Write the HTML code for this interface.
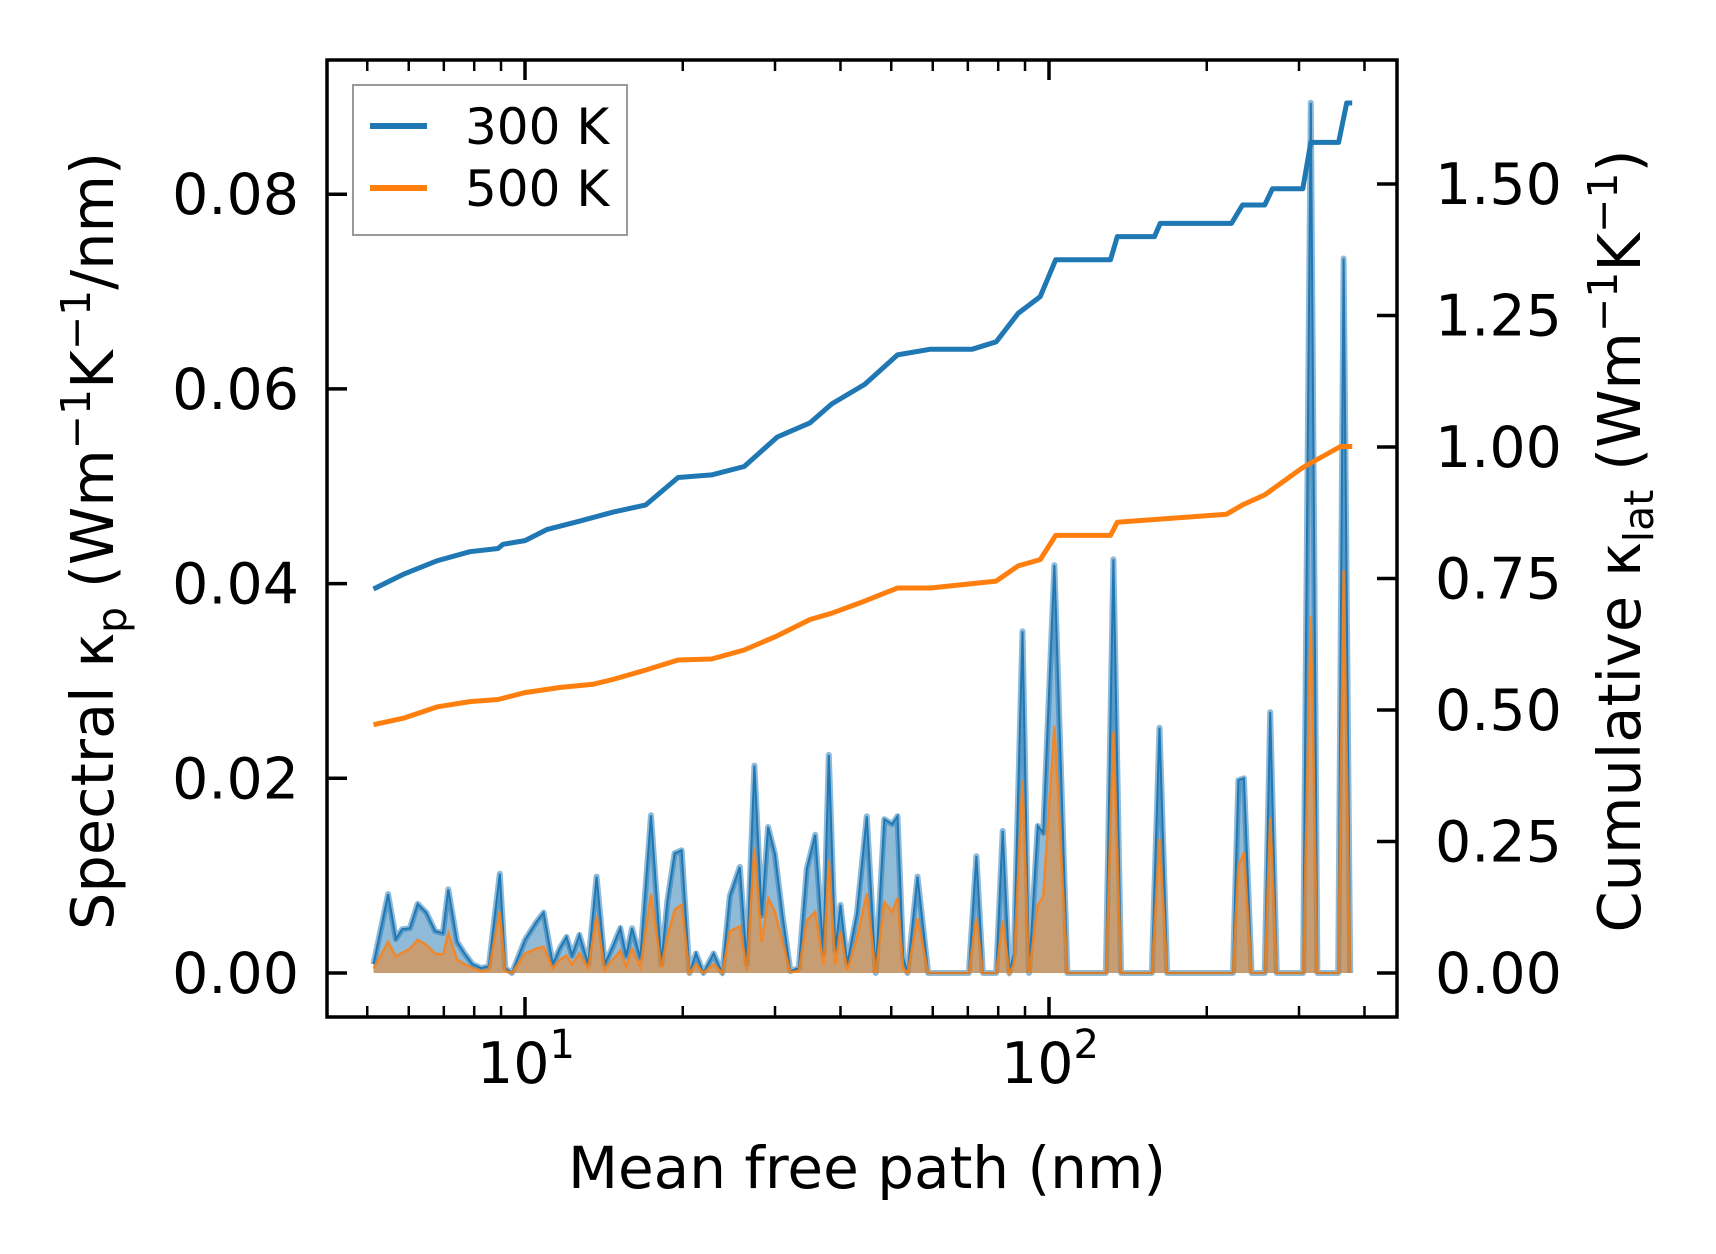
<!DOCTYPE html>
<html><head><meta charset="utf-8"><style>
html,body{margin:0;padding:0;background:#fff}
svg{display:block}
text{font-family:"DejaVu Sans","Liberation Sans",sans-serif;fill:#000}
</style></head><body>
<svg id="chart" width="1716" height="1254" viewBox="0 0 1716 1254" xmlns="http://www.w3.org/2000/svg">
<g id="plot"></g>
</svg>
<script>
// data
const mfp = [5.14,5.48,5.67,5.83,6.03,6.24,6.48,6.74,6.97,7.14,7.42,7.67,7.94,8.25,8.53,8.95,9.17,9.44,10.0,10.5,10.85,11.3,11.67,12.0,12.3,12.7,13.2,13.7,14.2,14.7,15.2,15.6,16.0,16.6,17.4,18.2,18.7,19.3,19.9,20.6,21.2,21.9,22.9,23.8,24.6,25.7,26.5,27.4,28.3,29.1,30.0,31.0,32.1,33.3,34.5,35.8,37.1,38.0,39.1,40.0,41.2,43.0,44.9,46.7,48.5,50.2,51.4,52.7,53.7,56.1,58.8,70.3,72.7,74.8,79.3,81.6,84.0,85.7,89.0,91.6,95.2,97.5,102.4,108.4,128.4,132.7,137.3,157.1,162.5,168.1,224.4,229.9,235.5,243.6,258.0,264.3,272.1,305.4,315.9,325.2,356.3,365.0,375.7];
const spec300 = [0.0009,0.0081,0.0035,0.0045,0.0046,0.0071,0.0062,0.0043,0.0041,0.0086,0.0032,0.0020,0.0009,0.0005,0.0007,0.0102,0.0005,0,0.0034,0.0052,0.0062,0.0009,0.0026,0.0037,0.0018,0.0039,0.0009,0.0099,0.0009,0.0027,0.0046,0.0017,0.0046,0.0015,0.0162,0.0009,0.0074,0.0123,0.0126,0,0.0020,0,0.0020,0,0.0079,0.0109,0.0009,0.0213,0.0059,0.0150,0.0122,0.0059,0.0002,0.0005,0.0107,0.0142,0.0020,0.0224,0.0023,0.0070,0.0009,0.0061,0.0161,0,0.0158,0.0153,0.0161,0.0016,0,0.0099,0,0,0.0120,0,0,0.0146,0,0.0020,0.0351,0,0.0151,0.0144,0.0419,0,0,0.0425,0,0,0.0252,0,0,0.0198,0.0200,0,0,0.0268,0,0,0.0894,0,0,0.0734,0];
const spec500 = [0.00045,0.0032,0.0017,0.0021,0.0025,0.0034,0.0029,0.0020,0.0019,0.0041,0.0014,0.0009,0.0005,0.0002,0.0003,0.0063,0.0002,0,0.0020,0.0025,0.0027,0.0005,0.0014,0.0018,0.0009,0.0020,0.0005,0.0059,0.0003,0.0014,0.0023,0.0007,0.0025,0.0006,0.0081,0.0006,0.0037,0.0065,0.0070,0,0.0009,0,0.0009,0,0.0043,0.0048,0.0003,0.0129,0.0032,0.0077,0.0063,0.0032,0.0001,0.0002,0.0054,0.0063,0.0009,0.0116,0.0009,0.0043,0.0003,0.0036,0.0082,0,0.0073,0.0063,0.0077,0.0005,0,0.0056,0,0,0.0057,0,0,0.0054,0,0.0009,0.0198,0,0.0070,0.0079,0.0254,0,0,0.0248,0,0,0.0138,0,0,0.0110,0.0124,0,0,0.0160,0,0,0.0367,0,0,0.0414,0];
const cumX300 = [5.14,5.89,6.81,7.85,8.88,9.08,10.0,11.0,12.7,14.7,17.0,19.6,22.7,26.2,30.3,35.0,38.5,44.5,51.4,59.4,71.4,79.3,87.3,96.2,103,131,135,159,163,223,234,258,267,305,316,357,370,379];
const cum300 = [0.730,0.759,0.784,0.801,0.807,0.815,0.822,0.843,0.859,0.876,0.890,0.942,0.947,0.963,1.019,1.046,1.082,1.119,1.175,1.186,1.186,1.200,1.254,1.286,1.356,1.356,1.400,1.400,1.425,1.425,1.460,1.460,1.491,1.491,1.579,1.579,1.654,1.654];
const cumX500 = [5.14,5.89,6.81,7.85,8.88,10.0,11.7,13.5,14.7,17.0,19.6,22.7,26.2,30.3,35.0,38.5,44.5,51.4,59.4,79.3,87.3,96.2,103,131,135,218,234,258,305,360,379];
const cum500 = [0.472,0.485,0.506,0.516,0.520,0.533,0.543,0.549,0.558,0.576,0.595,0.597,0.614,0.641,0.672,0.684,0.707,0.732,0.732,0.745,0.774,0.786,0.832,0.832,0.857,0.872,0.890,0.909,0.961,1.001,1.001];
const yTicksL = [0,0.02,0.04,0.06,0.08];
const yTicksLLabels = ["0.00","0.02","0.04","0.06","0.08"];
const yTicksR = [0,0.25,0.5,0.75,1.0,1.25,1.5];
const yTicksRLabels = ["0.00","0.25","0.50","0.75","1.00","1.25","1.50"];
const xMajor = [10,100];
const xMinor = [5,6,7,8,9,20,30,40,50,60,70,80,90,200,300,400];

const NS="http://www.w3.org/2000/svg";
const L=327,R=1397,T=60,B=1017;
const X0=525, DEC=524;
const xs=v=>X0+(Math.log10(v)-1)*DEC;
const yL=v=>973-v/0.02*194.7;
const yR=v=>973-v/0.25*131.5;
const g=document.getElementById('plot');
function mk(tag,attrs,parent){const e=document.createElementNS(NS,tag);for(const k in attrs)e.setAttribute(k,attrs[k]);(parent||g).appendChild(e);return e;}
const clip=mk('clipPath',{id:'cp'});mk('rect',{x:L,y:T,width:R-L,height:B-T},clip);

function areaPath(xsArr,ys,yf){let d='M'+xs(xsArr[0])+','+yf(0);xsArr.forEach((x,i)=>{d+=' L'+xs(x).toFixed(1)+','+yf(ys[i]).toFixed(1);});d+=' L'+xs(xsArr[xsArr.length-1])+','+yf(0)+'Z';return d;}
function linePath(xsArr,ys,yf){return xsArr.map((x,i)=>(i?'L':'M')+xs(x).toFixed(1)+','+yf(ys[i]).toFixed(1)).join(' ');}

const a1=mk('path',{d:areaPath(mfp,spec300,yL),fill:'rgba(31,119,180,0.5)','clip-path':'url(#cp)'});


const l1b=mk('path',{d:linePath(mfp,spec300,yL),fill:'none',stroke:'rgba(31,119,180,0.5)','stroke-width':6,'stroke-linejoin':'round'});


const l1=mk('path',{d:linePath(mfp,spec300,yL),fill:'none',stroke:'#1f77b4','stroke-width':2});


const a2=mk('path',{d:areaPath(mfp,spec500,yL),fill:'rgba(255,127,14,0.5)'});


const l2=mk('path',{d:linePath(mfp,spec500,yL),fill:'none',stroke:'rgba(255,127,14,0.8)','stroke-width':2.5});


const c1=mk('path',{d:linePath(cumX300,cum300,yR),fill:'none',stroke:'#1f77b4','stroke-width':5,'stroke-linejoin':'round'});


const c2=mk('path',{d:linePath(cumX500,cum500,yR),fill:'none',stroke:'#ff7f0e','stroke-width':5,'stroke-linejoin':'round'});



// frame
const fr=mk('rect',{x:L,y:T,width:R-L,height:B-T,fill:'none',stroke:'#000','stroke-width':3.5});


// ticks
yTicksL.forEach((v,i)=>{const y=yL(v);
 const t=mk('line',{x1:L,x2:L+20,y1:y,y2:y,stroke:'#000','stroke-width':3.5});
 
 
 const tx=mk('text',{x:299,y:y+20,'text-anchor':'end','font-size':57});tx.textContent=yTicksLLabels[i];
 
 
});
yTicksR.forEach((v,i)=>{const y=yR(v);
 const t=mk('line',{x1:R-20,x2:R,y1:y,y2:y,stroke:'#000','stroke-width':3.5});
 
 
 const tx=mk('text',{x:1435,y:y+20,'text-anchor':'start','font-size':57});tx.textContent=yTicksRLabels[i];
 
 
});
xMajor.forEach((v,i)=>{const x=xs(v);
 [[B,B-20],[T,T+20]].forEach(p=>{const t=mk('line',{x1:x,x2:x,y1:p[0],y2:p[1],stroke:'#000','stroke-width':3.5});
 
 });
 const tx=mk('text',{x:x+1,y:1083,'text-anchor':'middle','font-size':57});
 
 
 tx.appendChild(document.createTextNode('10'));
 const sp=mk('tspan',{dy:-25,'font-size':40},tx);sp.textContent=String(Math.round(Math.log10(v)));
});
xMinor.forEach(v=>{const x=xs(v);
 [[B,B-11],[T,T+11]].forEach(p=>{const t=mk('line',{x1:x,x2:x,y1:p[0],y2:p[1],stroke:'#000','stroke-width':2.5});
 
 });
});
// labels
const xl=mk('text',{x:867,y:1188,'text-anchor':'middle','font-size':58});xl.textContent='Mean free path (nm)';


const yl=mk('text',{x:0,y:0,'text-anchor':'middle','font-size':59,transform:'translate(113,541) rotate(-90)'});


yl.innerHTML='Spectral κ<tspan dy="13" font-size="41">p</tspan><tspan dy="-13"> (Wm</tspan><tspan dy="-23" font-size="41">−1</tspan><tspan dy="23">K</tspan><tspan dy="-23" font-size="41">−1</tspan><tspan dy="23">/nm)</tspan>';
const yr=mk('text',{x:0,y:0,'text-anchor':'middle','font-size':59,transform:'translate(1640,541) rotate(-90)'});


yr.innerHTML='Cumulative κ<tspan dy="13" font-size="41">lat</tspan><tspan dy="-13"> (Wm</tspan><tspan dy="-23" font-size="41">−1</tspan><tspan dy="23">K</tspan><tspan dy="-23" font-size="41">−1</tspan><tspan dy="23">)</tspan>';
// legend
const lg=mk('g',{});


mk('rect',{x:353,y:85,width:274,height:150,fill:'rgba(255,255,255,0.8)',stroke:'#999','stroke-width':2},lg);
[['#1f77b4','300 K',126],['#ff7f0e','500 K',188]].forEach(e=>{
 const ln=mk('line',{x1:370,x2:427,y1:e[2],y2:e[2],stroke:e[0],'stroke-width':6},lg);
 
 
 const t=mk('text',{x:465,y:e[2]+18,'font-size':50},lg);t.textContent=e[1];
 
 
});
</script>
</body></html>
